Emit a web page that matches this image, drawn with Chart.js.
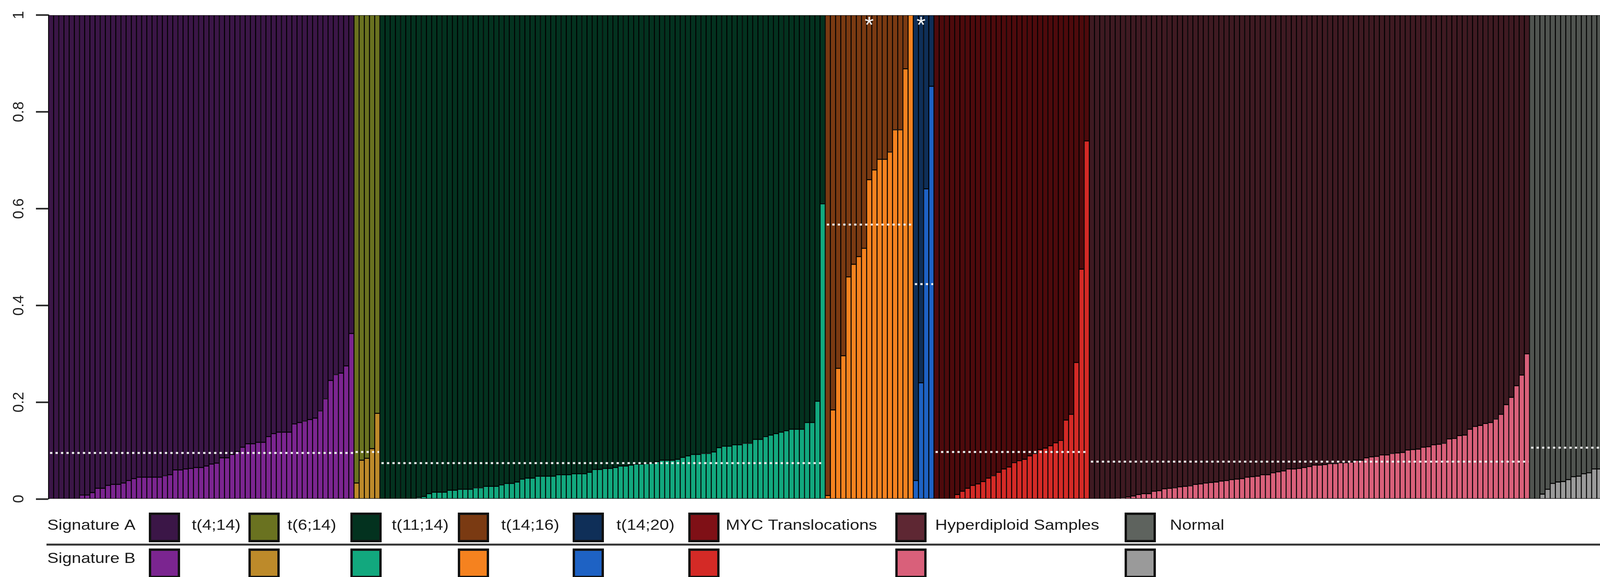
<!DOCTYPE html>
<html>
<head>
<meta charset="utf-8">
<script src="https://cdn.jsdelivr.net/npm/chart.js@4.4.1/dist/chart.umd.min.js"></script>
<style>
html, body { margin: 0; padding: 0; background: #fff; overflow: hidden; }
#myChart { display: block; width: 4300px; height: 1478px; }
</style>
</head>
<body>
<canvas id="myChart" width="4300" height="1478"></canvas>
<script>
// signature B share per sample, sorted within each group (signature A = rest of the bar)
var t4_14B = [0, 0, 0, 0, 0, 0, 0.008, 0.008, 0.013, 0.022, 0.022, 0.028, 0.03, 0.03, 0.033, 0.038,
    0.042, 0.045, 0.045, 0.045, 0.045, 0.045, 0.048, 0.05, 0.06, 0.06, 0.062, 0.063, 0.065, 0.065,
    0.068, 0.072, 0.074, 0.085, 0.085, 0.092, 0.098, 0.107, 0.114, 0.114, 0.117, 0.117, 0.129, 0.135,
    0.138, 0.138, 0.138, 0.155, 0.158, 0.161, 0.164, 0.167, 0.182, 0.207, 0.245, 0.257, 0.26, 0.275, 0.342];
var t6_14B = [0.033, 0.08, 0.084, 0.104, 0.177];
var t11_14B = [0, 0, 0, 0, 0, 0, 0, 0.003, 0.005, 0.011, 0.014, 0.014, 0.014, 0.018, 0.018, 0.02, 0.02,
    0.02, 0.023, 0.023, 0.026, 0.026, 0.026, 0.029, 0.032, 0.032, 0.035, 0.041, 0.043, 0.043, 0.047,
    0.047, 0.047, 0.047, 0.05, 0.05, 0.05, 0.052, 0.052, 0.052, 0.055, 0.061, 0.061, 0.063, 0.063,
    0.065, 0.068, 0.068, 0.07, 0.072, 0.072, 0.073, 0.074, 0.077, 0.08, 0.08, 0.08, 0.082, 0.086,
    0.089, 0.092, 0.092, 0.094, 0.094, 0.097, 0.106, 0.109, 0.109, 0.112, 0.112, 0.115, 0.115, 0.123,
    0.123, 0.129, 0.132, 0.135, 0.138, 0.141, 0.144, 0.144, 0.144, 0.158, 0.158, 0.202, 0.61];
var t14_16B = [0.007, 0.184, 0.27, 0.296, 0.459, 0.485, 0.501, 0.518, 0.66, 0.68, 0.702, 0.702, 0.717,
    0.763, 0.763, 0.889, 1.0];
var t14_20B = [0.038, 0.24, 0.641, 0.853];
var mycB = [0, 0, 0, 0, 0.009, 0.016, 0.022, 0.028, 0.031, 0.036, 0.043, 0.048, 0.055, 0.062, 0.066,
    0.075, 0.079, 0.082, 0.089, 0.094, 0.102, 0.105, 0.11, 0.116, 0.121, 0.163, 0.175, 0.282, 0.475, 0.74];
var hyperB = [0, 0, 0, 0, 0, 0.001, 0.002, 0.004, 0.006, 0.009, 0.011, 0.011, 0.016, 0.017, 0.021,
    0.022, 0.023, 0.025, 0.026, 0.027, 0.03, 0.031, 0.033, 0.034, 0.035, 0.037, 0.038, 0.04, 0.041,
    0.042, 0.045, 0.046, 0.047, 0.05, 0.05, 0.054, 0.056, 0.058, 0.062, 0.062, 0.063, 0.065, 0.067,
    0.07, 0.07, 0.071, 0.073, 0.073, 0.075, 0.075, 0.076, 0.08, 0.08, 0.085, 0.087, 0.088, 0.091,
    0.091, 0.094, 0.095, 0.096, 0.101, 0.102, 0.103, 0.107, 0.108, 0.112, 0.113, 0.115, 0.124, 0.125,
    0.131, 0.132, 0.144, 0.15, 0.152, 0.156, 0.158, 0.165, 0.175, 0.195, 0.21, 0.234, 0.256, 0.3];
var normalB = [0, 0, 0.01, 0.02, 0.032, 0.035, 0.036, 0.04, 0.046, 0.047, 0.052, 0.054, 0.062, 0.062,
    0.063, 0.074, 0.075, 0.08, 0.087, 0.093, 0.111, 0.128, 0.14, 0.141, 0.142, 0.16, 0.169, 0.19, 0.21];

var groupNames = ["t(4;14)", "t(6;14)", "t(11;14)", "t(14;16)", "t(14;20)", "MYC Translocations", "Hyperdiploid Samples", "Normal"];
var groupB = [t4_14B, t6_14B, t11_14B, t14_16B, t14_20B, mycB, hyperB, normalB];
// white dotted line per group
var groupMeans = [0.095, 0.097, 0.074, 0.567, 0.444, 0.097, 0.077, 0.106];
// stars on top: group and bar inside the group
var starGroups = [3, 4];
var starBars = [8, 1];
var yTickLabels = ["0", "0.2", "0.4", "0.6", "0.8", "1"];

// legend swatches
var colorA = ["#3b1647", "#6a7220", "#03321f", "#7a3a12", "#0f2f58", "#7f1016", "#5e2733", "#5e635e"];
var colorB = ["#7b2590", "#bd8a2a", "#12a87e", "#f5821f", "#1e62c4", "#d42a26", "#d9607a", "#9a9a9a"];
// the bars look darker than the swatches for the last groups
var barColorA = ["#3b1647", "#6a7220", "#03321f", "#7a3a12", "#0f2f58", "#4e0a0c", "#3f1a22", "#505450"];

document.addEventListener("DOMContentLoaded", iniciar);

function iniciar() {
    var canvas = document.getElementById("myChart");
    if (!canvas) return;

    var labels = [], valuesB = [], valuesA = [], fillB = [], fillA = [], offsets = [];
    groupB.forEach(function (vals, g) {
        offsets.push(labels.length);
        vals.forEach(function (v, i) {
            labels.push(groupNames[g] + " " + (i + 1));
            valuesB.push(v);
            valuesA.push(+(1 - v).toFixed(3));
            fillB.push(colorB[g]);
            fillA.push(barColorA[g]);
        });
    });

    var meanPlugin = {
        id: "groupMeans",
        afterDatasetsDraw: function (chart) {
            var ctx = chart.ctx, x = chart.scales.x, y = chart.scales.y;
            var half = (x.getPixelForValue(1) - x.getPixelForValue(0)) / 2;
            ctx.save();
            ctx.strokeStyle = "#ececec";
            ctx.lineWidth = 5;
            ctx.setLineDash([6, 8]);
            groupB.forEach(function (vals, g) {
                var x0 = x.getPixelForValue(offsets[g]) - half;
                var x1 = x.getPixelForValue(offsets[g] + vals.length - 1) + half;
                var yy = y.getPixelForValue(groupMeans[g]);
                ctx.beginPath();
                ctx.moveTo(x0 + 4, yy);
                ctx.lineTo(x1 - 2, yy);
                ctx.stroke();
            });
            ctx.setLineDash([]);
            ctx.fillStyle = "#f2f2f2";
            ctx.font = "60px 'Liberation Sans', Arial, sans-serif";
            ctx.textAlign = "center";
            ctx.textBaseline = "alphabetic";
            starGroups.forEach(function (g, k) {
                var px = x.getPixelForValue(offsets[g] + starBars[k]);
                ctx.fillText("*", px, y.getPixelForValue(1) + 45);
            });
            ctx.restore();
        }
    };

    var legendPlugin = {
        id: "sigLegend",
        afterDraw: function (chart) {
            var ctx = chart.ctx;
            var boxLeft = [381, 636, 897, 1172, 1466, 1762, 2292, 2879];
            var textLeft = [491, 736, 1003, 1283, 1578, 1858, 2394, 2995];
            ctx.save();
            ctx.strokeStyle = "#333";
            ctx.lineWidth = 5;
            ctx.beginPath();
            ctx.moveTo(119, 1395);
            ctx.lineTo(4300, 1395);
            ctx.stroke();

            ctx.font = "36px 'Liberation Sans', Arial, sans-serif";
            ctx.textBaseline = "alphabetic";
            escribir(ctx, "Signature A", 121, 1357);
            escribir(ctx, "Signature B", 121, 1442);
            groupNames.forEach(function (name, g) {
                caja(ctx, boxLeft[g], 1313, colorA[g]);
                caja(ctx, boxLeft[g], 1405, colorB[g]);
                escribir(ctx, name, textLeft[g], 1357);
            });
            ctx.restore();
        }
    };

    new Chart(canvas, {
        type: "bar",
        data: {
            labels: labels,
            datasets: [
                {
                    label: "Signature B",
                    data: valuesB,
                    backgroundColor: fillB,
                    borderColor: "#000",
                    borderWidth: 1.6,
                    borderSkipped: false
                },
                {
                    label: "Signature A",
                    data: valuesA,
                    backgroundColor: fillA,
                    borderColor: "#000",
                    borderWidth: 1.6,
                    borderSkipped: false
                }
            ]
        },
        options: {
            responsive: false,
            devicePixelRatio: 1,
            animation: false,
            layout: { padding: { top: 27, bottom: 200, left: 0, right: 0 } },
            datasets: { bar: { categoryPercentage: 1, barPercentage: 1 } },
            plugins: {
                legend: { display: false },
                tooltip: { enabled: false }
            },
            scales: {
                x: { stacked: true, display: false, offset: true },
                y: {
                    stacked: true,
                    min: 0,
                    max: 1,
                    afterFit: function (scale) { scale.width = 124; },
                    border: { display: true, color: "#222", width: 3 },
                    grid: { drawOnChartArea: false, drawTicks: true, tickLength: 32, tickWidth: 4, tickColor: "#222" },
                    ticks: {
                        stepSize: 0.2,
                        autoSkip: false,
                        minRotation: 90,
                        maxRotation: 90,
                        crossAlign: "center",
                        padding: 16,
                        color: "#222",
                        font: { family: "'Liberation Sans', Arial, sans-serif", size: 38 },
                        callback: function (v, i) { return yTickLabels[i]; }
                    }
                }
            }
        },
        plugins: [meanPlugin, legendPlugin]
    });
}

function escribir(ctx, texto, x, y) {
    ctx.save();
    ctx.fillStyle = "#1b1b1b";
    ctx.translate(x, y);
    ctx.scale(1.2, 1);
    ctx.fillText(texto, 0, 0);
    ctx.restore();
}

function caja(ctx, x, y, color) {
    ctx.fillStyle = color;
    ctx.fillRect(x, y, 80, 76);
    ctx.lineWidth = 6;
    ctx.strokeStyle = "#111";
    ctx.strokeRect(x + 3, y + 3, 74, 70);
}
</script>
</body>
</html>
